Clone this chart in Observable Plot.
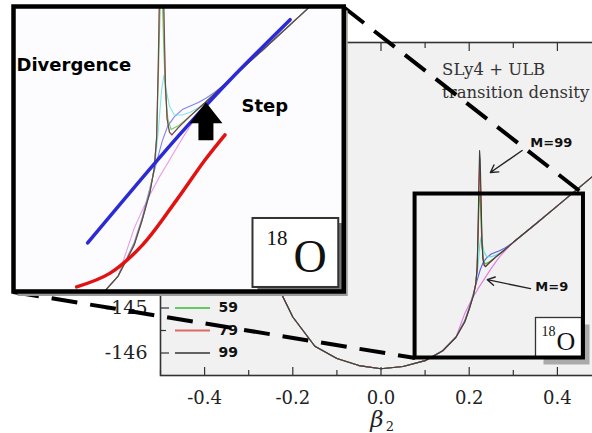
<!DOCTYPE html>
<html><head><meta charset="utf-8">
<script src="https://cdn.jsdelivr.net/npm/d3@7"></script>
<script src="https://cdn.jsdelivr.net/npm/@observablehq/plot@0.6"></script>
<style>
html,body{margin:0;padding:0;background:#fff;overflow:hidden}
#wrap{position:relative;width:592px;height:433px;overflow:hidden;background:#fff}
#wrap svg{position:absolute;left:0;top:0;overflow:visible}
</style></head><body><div id="wrap"></div>
<script>
// ---------------- data ----------------
const seriesM = [9, 19, 39, 59, 79, 99];
const seriesColors = ["#e07ae0", "#5a5aec", "#5edcdc", "#3fbf3f", "#dc4646", "#404040"];

// shared part of the energy curves (identical for all M)
const baseBeta = [-0.5, -0.45, -0.4, -0.35, -0.3, -0.25, -0.2, -0.15, -0.1, -0.05, 0, 0.05, 0.1, 0.14, 0.17];
const baseE    = [-137.5, -139.0, -140.6, -142.0, -143.2, -144.2, -145.2, -145.85, -146.12, -146.28, -146.35, -146.3, -146.17, -145.95, -145.65];

// shared upper branch after the transition
const upperBeta = [0.3, 0.35, 0.4, 0.45, 0.5];
const upperE    = [-143.54, -143.14, -142.73, -142.32, -141.91];

// transition region, one pair of arrays per M
const tailBeta9  = [0.19, 0.2, 0.21, 0.22, 0.23, 0.24, 0.25, 0.26, 0.27, 0.28, 0.29];
const tailE9     = [-145.12, -144.92, -144.74, -144.57, -144.42, -144.27, -144.12, -143.98, -143.85, -143.74, -143.64];
const tailBeta19 = [0.19, 0.2, 0.21, 0.218, 0.225, 0.232, 0.24, 0.25, 0.26, 0.27, 0.28, 0.29];
const tailE19    = [-145.28, -145.0, -144.66, -144.38, -144.15, -143.98, -143.88, -143.8, -143.76, -143.72, -143.67, -143.61];
const tailBeta39 = [0.19, 0.2, 0.21, 0.216, 0.22, 0.224, 0.227, 0.23, 0.234, 0.24, 0.25, 0.26, 0.27, 0.28, 0.29];
const tailE39    = [-145.3, -145.02, -144.68, -144.4, -144.05, -143.6, -143.42, -143.58, -143.76, -143.86, -143.86, -143.83, -143.78, -143.71, -143.63];
const tailBeta59 = [0.19, 0.2, 0.21, 0.215, 0.218, 0.22, 0.222, 0.2235, 0.225, 0.227, 0.229, 0.232, 0.236, 0.245, 0.26, 0.28];
const tailE59    = [-145.3, -145.03, -144.7, -144.45, -144.12, -143.5, -142.8, -142.4, -142.55, -143.15, -143.6, -143.9, -144.02, -143.98, -143.87, -143.71];
const tailBeta79 = [0.19, 0.2, 0.21, 0.215, 0.218, 0.22, 0.222, 0.2235, 0.225, 0.227, 0.229, 0.231, 0.234, 0.237, 0.245, 0.26, 0.28];
const tailE79    = [-145.3, -145.02, -144.7, -144.45, -144.12, -143.35, -142.4, -141.85, -142.0, -142.8, -143.55, -143.9, -144.05, -144.08, -144.0, -143.87, -143.71];
const tailBeta99 = [0.19, 0.2, 0.21, 0.215, 0.218, 0.22, 0.222, 0.2235, 0.225, 0.227, 0.229, 0.231, 0.234, 0.237, 0.245, 0.26, 0.28];
const tailE99    = [-145.31, -145.03, -144.71, -144.46, -144.1, -143.3, -142.2, -141.5, -141.7, -142.6, -143.5, -143.9, -144.05, -144.08, -144.0, -143.87, -143.71];

// fitted lines shown in the magnified inset
const blueFitBeta = [0.132, 0.222, 0.2595, 0.3095, 0.3845];
const blueFitE    = [-145.28, -144.33, -143.95, -143.47, -142.80];
const redFitBeta  = [0.1183, 0.1595, 0.2008, 0.2433, 0.2783, 0.3033];
const redFitE     = [-145.77, -145.62, -145.30, -144.80, -144.36, -144.08];

// ticks
const xTicks = [-0.4, -0.2, 0, 0.2, 0.4];
const xMinor = [-0.5, -0.3, -0.1, 0.1, 0.3, 0.5];
const yTicks = [-146, -145, -144, -143, -142, -141, -140];
const yMinor = [-145.5, -144.5, -143.5, -142.5, -141.5, -140.5, -139.5];
const yLabels = [-146, -145];   // the other labels sit under the magnified view

// annotations (data coordinates of the main chart)
const zoomBeta = [0.0773, 0.4591];        // magnified region
const zoomE    = [-146.111, -142.467];
const insetBeta = [-0.8341, -0.0852];     // where the magnified view sits
const insetE    = [-144.644, -138.311];
const insetDomainBeta = [0.0395, 0.4514];
const insetDomainE    = [-145.821, -142.654];
const mLabels = ["M=99", "M=9"];
const mLabelBeta = [0.3386, 0.35];
const mLabelE = [-141.34, -144.52];
const mArrowFrom = [[0.320, -141.5], [0.339, -144.57]];
const mArrowTo   = [[0.248, -141.99], [0.241, -144.37]];
const stepArrowBeta = 0.2795, stepArrowE = -144.14;

// ---------------- tables ----------------
const tailsBeta = [tailBeta9, tailBeta19, tailBeta39, tailBeta59, tailBeta79, tailBeta99];
const tailsE = [tailE9, tailE19, tailE39, tailE59, tailE79, tailE99];
const rows = [];
seriesM.forEach((m, i) => {
  baseBeta.forEach((b, j) => rows.push({M: m, beta: b, E: baseE[j]}));
  tailsBeta[i].forEach((b, j) => rows.push({M: m, beta: b, E: tailsE[i][j]}));
  upperBeta.forEach((b, j) => rows.push({M: m, beta: b, E: upperE[j]}));
});
const blueFit = blueFitBeta.map((b, i) => ({beta: b, E: blueFitE[i]}));
const redFit = redFitBeta.map((b, i) => ({beta: b, E: redFitE[i]}));
const legendRows = seriesM.map((m, i) => ({M: m, E: -146 + 0.5 * (seriesM.length - 1 - i)}));
const mAnn = mLabels.map((t, i) => ({t, beta: mLabelBeta[i], E: mLabelE[i],
  x1: mArrowFrom[i][0], y1: mArrowFrom[i][1], x2: mArrowTo[i][0], y2: mArrowTo[i][1]}));
const dashes = [
  {x1: insetBeta[1], y1: insetE[1], x2: zoomBeta[1], y2: zoomE[1]},
  {x1: insetBeta[0], y1: insetE[0], x2: zoomBeta[0], y2: zoomE[0]}
];

const color = {domain: seriesM, range: seriesColors, type: "ordinal"};
const serif = "DejaVu Serif";
const tnr = "Liberation Serif";
const sans = "DejaVu Sans";

// ---------------- main chart ----------------
const W = 592, H = 433;
const mainSvg = Plot.plot({
  width: W, height: H,
  marginLeft: 160, marginRight: -9, marginTop: 42, marginBottom: 58,
  x: {domain: [-0.5, 0.5], range: [160, 601], axis: null},
  y: {domain: [-146.5, -139.1], range: [375, 42], axis: null},
  color,
  style: {background: "transparent", fontFamily: serif},
  marks: [
    Plot.frame({fill: "#f1f1f1"}),
    Plot.line(rows, {x: "beta", y: "E", z: "M", stroke: "M", strokeWidth: 1.1, clip: true}),
    // legend
    Plot.ruleY(legendRows, {y: "E", stroke: "M", strokeWidth: 2, strokeOpacity: 0.8, insetLeft: 15, insetRight: 391}),
    Plot.text(legendRows, {y: "E", text: d => String(d.M), frameAnchor: "left", dx: 58, textAnchor: "start",
      lineAnchor: "middle", fontFamily: sans, fontWeight: "bold", fontSize: 14, fill: "#111"}),
    // ticks (inward)
    Plot.tickX(xTicks, {x: d => d, insetTop: 325, stroke: "#333", strokeWidth: 1.2}),
    Plot.tickX(xMinor, {x: d => d, insetTop: 328, stroke: "#333", strokeWidth: 1.2}),
    Plot.tickX(xTicks, {x: d => d, insetBottom: 324, stroke: "#333", strokeWidth: 1.2}),
    Plot.tickX(xMinor, {x: d => d, insetBottom: 327, stroke: "#333", strokeWidth: 1.2}),
    Plot.tickY(yTicks, {y: d => d, insetRight: 432, stroke: "#333", strokeWidth: 1.2}),
    Plot.tickY(yMinor, {y: d => d, insetRight: 435, stroke: "#333", strokeWidth: 1.2}),
    Plot.frame({stroke: "#333", strokeWidth: 1.6}),
    Plot.axisX(xTicks, {anchor: "bottom", tickSize: 0, tickPadding: 16, tickFormat: d => d.toFixed(1),
      fontSize: 18, fontFamily: serif, fill: "#222", label: null}),
    Plot.axisY(yLabels, {anchor: "left", tickSize: 0, tickPadding: 13, tickFormat: d => String(d),
      fontSize: 19, fontFamily: serif, fill: "#222", label: null}),
    Plot.text(["β"], {frameAnchor: "bottom", dx: -4, dy: 44, lineAnchor: "middle", fontSize: 23, fontStyle: "italic", fontFamily: serif, fill: "#222"}),
    Plot.text(["2"], {frameAnchor: "bottom", dx: 9, dy: 51, lineAnchor: "middle", fontSize: 13, fontFamily: serif, fill: "#222"}),
    // model text
    Plot.text(["SLy4 + ULB\ntransition density"], {x: 0.1386, y: -139.92, textAnchor: "start", lineAnchor: "middle",
      lineHeight: 1.35, fontSize: 16.5, fontFamily: serif, fill: "#333"}),
    // M labels with arrows
    Plot.arrow(mAnn, {x1: "x1", y1: "y1", x2: "x2", y2: "y2", stroke: "#222", strokeWidth: 1.4, headLength: 9}),
    Plot.text(mAnn, {x: "beta", y: "E", text: "t", textAnchor: "start", fontFamily: sans, fontWeight: "bold",
      fontSize: 13, fill: "#111"}),
    // 18O label box (bottom-right)
    Plot.frame({fill: "#aaaaaa", insetLeft: 383, insetRight: 12, insetTop: 282, insetBottom: 11}),
    Plot.frame({fill: "#ffffff", stroke: "#333", strokeWidth: 1.3, insetLeft: 375, insetRight: 20, insetTop: 275, insetBottom: 18}),
    Plot.text(["18"], {frameAnchor: "top-left", dx: 381, dy: 289, textAnchor: "start", lineAnchor: "middle", fontFamily: tnr, fontSize: 14, fill: "#111"}),
    Plot.text(["O"], {frameAnchor: "top-left", dx: 396, dy: 299, textAnchor: "start", lineAnchor: "middle", fontFamily: tnr, fontSize: 26, fill: "#111"}),
    // magnified region box
    Plot.rect([0], {x1: zoomBeta[0], x2: zoomBeta[1], y1: zoomE[0], y2: zoomE[1], fill: "none", stroke: "#000", strokeWidth: 4}),
    // connecting dashed lines
    Plot.link(dashes, {x1: "x1", y1: "y1", x2: "x2", y2: "y2", stroke: "#000", strokeWidth: 4, strokeDasharray: "26,13"})
  ]
});
document.getElementById("wrap").appendChild(mainSvg);

// ---------------- magnified inset ----------------
const sx = mainSvg.scale("x"), sy = mainSvg.scale("y");
const insetLeftPx = sx.apply(insetBeta[0]), insetRightPx = sx.apply(insetBeta[1]);
const insetTopPx = sy.apply(insetE[1]), insetBottomPx = sy.apply(insetE[0]);
const iw = insetRightPx - insetLeftPx, ih = insetBottomPx - insetTopPx;
const pad = 6;
const blockArrow = {
  draw(ctx, l) {
    const sw = 7.5, hw = 16.5, hl = 21;
    ctx.moveTo(-sw, 0); ctx.lineTo(-sw, -(l - hl)); ctx.lineTo(-hw, -(l - hl)); ctx.lineTo(0, -l);
    ctx.lineTo(hw, -(l - hl)); ctx.lineTo(sw, -(l - hl)); ctx.lineTo(sw, 0); ctx.closePath();
  }
};
const insetSvg = Plot.plot({
  width: iw + pad, height: ih + pad,
  marginLeft: 0, marginTop: 0, marginRight: pad, marginBottom: pad,
  x: {domain: insetDomainBeta, axis: null},
  y: {domain: insetDomainE, axis: null},
  color,
  style: {background: "transparent"},
  marks: [
    Plot.frame({fill: "#9a9a9a", insetLeft: 4, insetTop: 4, insetRight: -4, insetBottom: -4.5}),
    Plot.frame({fill: "#fcfcfe"}),
    Plot.line(rows, {x: "beta", y: "E", z: "M", stroke: "M", strokeWidth: 1.1, strokeOpacity: 0.75, clip: true}),
    Plot.line(blueFit, {x: "beta", y: "E", stroke: "#2b2bd6", strokeWidth: 3.5, curve: "catmull-rom"}),
    Plot.line(redFit, {x: "beta", y: "E", stroke: "#e31212", strokeWidth: 3.5, curve: "catmull-rom"}),
    Plot.vector([0], {x: () => stepArrowBeta, y: () => stepArrowE, length: 38, anchor: "start", shape: blockArrow,
      fill: "#000", stroke: "none"}),
    Plot.text(["Divergence"], {frameAnchor: "top-left", dx: 3, dy: 59, textAnchor: "start", lineAnchor: "middle",
      fontFamily: sans, fontWeight: "bold", fontSize: 18, fill: "#000"}),
    Plot.text(["Step"], {frameAnchor: "top-left", dx: 228, dy: 100, textAnchor: "start", lineAnchor: "middle",
      fontFamily: sans, fontWeight: "bold", fontSize: 18, fill: "#000"}),
    Plot.frame({fill: "#777", insetLeft: 244, insetRight: 0.5, insetTop: 216.5, insetBottom: -0.5}),
    Plot.frame({fill: "#fff", stroke: "#333", strokeWidth: 2, insetLeft: 239, insetRight: 5.5, insetTop: 211.5, insetBottom: 4.5}),
    Plot.text(["18"], {frameAnchor: "top-left", dx: 253, dy: 232, textAnchor: "start", lineAnchor: "middle", fontFamily: tnr, fontSize: 21, fill: "#111"}),
    Plot.text(["O"], {frameAnchor: "top-left", dx: 280, dy: 251, textAnchor: "start", lineAnchor: "middle", fontFamily: tnr, fontSize: 46, fill: "#111"}),
    Plot.frame({stroke: "#000", strokeWidth: 4.5})
  ]
});
insetSvg.style.left = insetLeftPx + "px";
insetSvg.style.top = insetTopPx + "px";
document.getElementById("wrap").appendChild(insetSvg);
</script></body></html>
